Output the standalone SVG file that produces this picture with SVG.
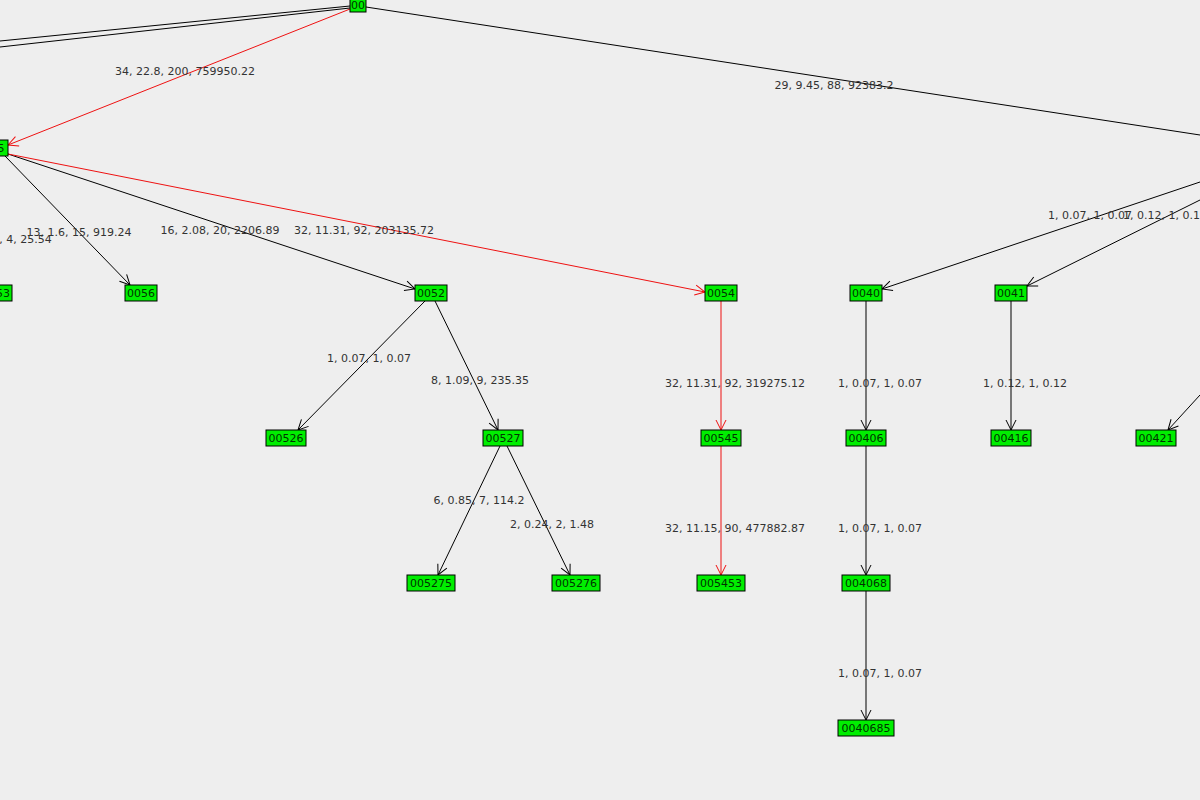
<svg xmlns="http://www.w3.org/2000/svg" width="1200" height="800" viewBox="0 0 1200 800">
<style>
.n rect{fill:#00ee00;stroke:#000;stroke-width:1}
.n text{font-family:"DejaVu Sans",sans-serif;font-size:11px;fill:#003300;text-anchor:middle}
.e line{stroke:#000;stroke-width:1;fill:none;marker-end:url(#a)}
.e line.r{stroke:#ee1111;marker-end:url(#ar)}
.e line.p{marker-end:none}
.l{font-family:"DejaVu Sans",sans-serif;font-size:11px;fill:#333;text-anchor:middle}
</style>
<defs>
<marker id="a" markerWidth="12" markerHeight="12" refX="11" refY="6" orient="auto" markerUnits="userSpaceOnUse"><path d="M1,1 L11,6 L1,11" fill="none" stroke="#000"/></marker>
<marker id="ar" markerWidth="12" markerHeight="12" refX="11" refY="6" orient="auto" markerUnits="userSpaceOnUse"><path d="M1,1 L11,6 L1,11" fill="none" stroke="#ee1111"/></marker>
</defs>
<rect width="1200" height="800" fill="#eeeeee"/>
<g id="connectors" class="e">
<line class="p" x1="350" y1="6" x2="0" y2="41"/>
<line class="p" x1="350" y1="8" x2="0" y2="47"/>
<line class="r" x1="350" y1="9" x2="8" y2="145"/>
<line class="p" x1="366" y1="7" x2="1200" y2="135"/>
<line x1="5" y1="156" x2="130" y2="285"/>
<line x1="8" y1="154" x2="415" y2="289"/>
<line class="r" x1="8" y1="154" x2="705" y2="292"/>
<line x1="425" y1="301" x2="298" y2="430"/>
<line x1="435" y1="301" x2="498" y2="430"/>
<line class="r" x1="721" y1="301" x2="721" y2="430"/>
<line class="r" x1="721" y1="446" x2="721" y2="575"/>
<line x1="500" y1="446" x2="438" y2="575"/>
<line x1="507" y1="446" x2="570" y2="575"/>
<line x1="866" y1="301" x2="866" y2="430"/>
<line x1="866" y1="446" x2="866" y2="575"/>
<line x1="866" y1="591" x2="866" y2="720"/>
<line x1="1011" y1="301" x2="1011" y2="430"/>
<line x1="1200" y1="182" x2="882" y2="289"/>
<line x1="1200" y1="200" x2="1027" y2="286"/>
<line x1="1200" y1="395" x2="1168" y2="430"/>
</g>
<g id="labels">
<text class="l" x="185" y="75">34, 22.8, 200, 759950.22</text>
<text class="l" x="834" y="89">29, 9.45, 88, 92383.2</text>
<text class="l" x="22" y="243">2, 4, 25.54</text>
<text class="l" x="79" y="236">13, 1.6, 15, 919.24</text>
<text class="l" x="220" y="234">16, 2.08, 20, 2206.89</text>
<text class="l" x="364" y="234">32, 11.31, 92, 203135.72</text>
<text class="l" x="369" y="362">1, 0.07, 1, 0.07</text>
<text class="l" x="480" y="384">8, 1.09, 9, 235.35</text>
<text class="l" x="735" y="387">32, 11.31, 92, 319275.12</text>
<text class="l" x="735" y="532">32, 11.15, 90, 477882.87</text>
<text class="l" x="479" y="504">6, 0.85, 7, 114.2</text>
<text class="l" x="552" y="528">2, 0.24, 2, 1.48</text>
<text class="l" x="880" y="387">1, 0.07, 1, 0.07</text>
<text class="l" x="880" y="532">1, 0.07, 1, 0.07</text>
<text class="l" x="880" y="677">1, 0.07, 1, 0.07</text>
<text class="l" x="1025" y="387">1, 0.12, 1, 0.12</text>
<text class="l" x="1090" y="219">1, 0.07, 1, 0.07</text>
<text class="l" x="1165" y="219">1, 0.12, 1, 0.12</text>
</g>
<g id="n00" class="n"><rect x="350" y="-3" width="16" height="15"/><text x="358" y="9">00</text></g>
<g id="n005" class="n"><rect x="-20" y="140" width="28" height="16"/><text x="-6" y="152">005</text></g>
<g id="n0053" class="n"><rect x="-20" y="285" width="32" height="16"/><text x="-4" y="297">0053</text></g>
<g id="n0056" class="n"><rect x="125" y="285" width="32" height="16"/><text x="141" y="297">0056</text></g>
<g id="n0052" class="n"><rect x="415" y="285" width="32" height="16"/><text x="431" y="297">0052</text></g>
<g id="n0054" class="n"><rect x="705" y="285" width="32" height="16"/><text x="721" y="297">0054</text></g>
<g id="n0040" class="n"><rect x="850" y="285" width="32" height="16"/><text x="866" y="297">0040</text></g>
<g id="n0041" class="n"><rect x="995" y="285" width="32" height="16"/><text x="1011" y="297">0041</text></g>
<g id="n00526" class="n"><rect x="266" y="430" width="40" height="16"/><text x="286" y="442">00526</text></g>
<g id="n00527" class="n"><rect x="483" y="430" width="40" height="16"/><text x="503" y="442">00527</text></g>
<g id="n00545" class="n"><rect x="701" y="430" width="40" height="16"/><text x="721" y="442">00545</text></g>
<g id="n00406" class="n"><rect x="846" y="430" width="40" height="16"/><text x="866" y="442">00406</text></g>
<g id="n00416" class="n"><rect x="991" y="430" width="40" height="16"/><text x="1011" y="442">00416</text></g>
<g id="n00421" class="n"><rect x="1136" y="430" width="40" height="16"/><text x="1156" y="442">00421</text></g>
<g id="n005275" class="n"><rect x="407" y="575" width="48" height="16"/><text x="431" y="587">005275</text></g>
<g id="n005276" class="n"><rect x="552" y="575" width="48" height="16"/><text x="576" y="587">005276</text></g>
<g id="n005453" class="n"><rect x="697" y="575" width="48" height="16"/><text x="721" y="587">005453</text></g>
<g id="n004068" class="n"><rect x="842" y="575" width="48" height="16"/><text x="866" y="587">004068</text></g>
<g id="n0040685" class="n"><rect x="838" y="720" width="56" height="16"/><text x="866" y="732">0040685</text></g>
</svg>
